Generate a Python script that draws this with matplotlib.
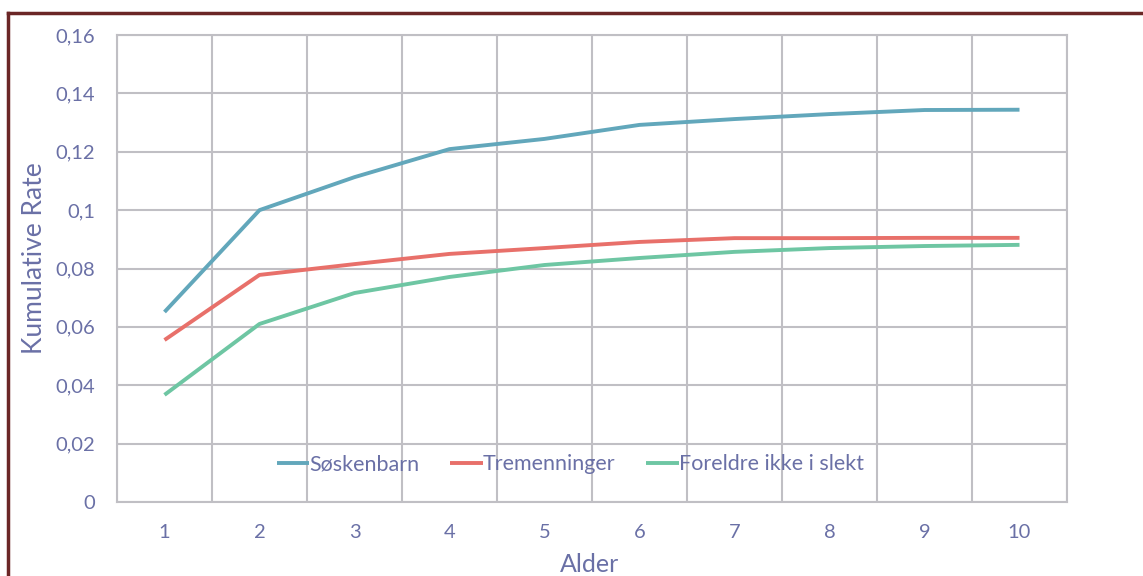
import matplotlib
matplotlib.use("Agg")
import matplotlib.pyplot as plt
from matplotlib.lines import Line2D

ages = [1, 2, 3, 4, 5, 6, 7, 8, 9, 10]
soskenbarn = [0.0651, 0.1000, 0.1113, 0.1209, 0.1244, 0.1292, 0.1312, 0.1329, 0.1343, 0.1344]
tremenninger = [0.0555, 0.0778, 0.0815, 0.0850, 0.0870, 0.0891, 0.0904, 0.0904, 0.0905, 0.0905]
foreldre = [0.0367, 0.0610, 0.0716, 0.0771, 0.0812, 0.0836, 0.0857, 0.0870, 0.0877, 0.0881]
series_names = ["Søskenbarn", "Tremenninger", "Foreldre ikke i slekt"]
yticks = [0, 0.02, 0.04, 0.06, 0.08, 0.1, 0.12, 0.14, 0.16]
ytick_labels = ["0", "0,02", "0,04", "0,06", "0,08", "0,1", "0,12", "0,14", "0,16"]

colors = ["#62a7bb", "#e8706a", "#6ec6a3"]
text_color = "#6a70a6"
grid_color = "#c0bfc4"

plt.rcParams['font.family'] = ['Lato', 'DejaVu Sans']

W, H = 1143, 576
fig = plt.figure(figsize=(W / 100, H / 100), dpi=100)
ax = fig.add_axes([117 / W, 1 - 502 / H, (1067 - 117) / W, (502 - 35) / H])

for vals, c, name in zip([soskenbarn, tremenninger, foreldre], colors, series_names):
    ax.plot(ages, vals, color=c, lw=2.8, label=name, solid_capstyle='butt')

ax.set_xlim(0.5, 10.5)
ax.set_ylim(0, 0.16)
ax.set_yticks(yticks)
ax.set_yticklabels(ytick_labels)
ax.set_xticks(ages)
ax.set_xticklabels([str(a) for a in ages])
ax.set_xticks([a + 0.5 for a in [0] + ages], minor=True)
ax.grid(True, which='minor', axis='x', color=grid_color, lw=1.5)
ax.grid(True, which='major', axis='y', color=grid_color, lw=1.5)
ax.set_axisbelow(True)
ax.tick_params(axis='both', which='both', length=0, colors=text_color, labelsize=14.5)
ax.tick_params(axis='x', pad=16)
ax.tick_params(axis='y', pad=16)
for s in ax.spines.values():
    s.set_color(grid_color)
    s.set_linewidth(1.5)

ax.set_xlabel("Alder", color=text_color, fontsize=18)
ax.set_ylabel("Kumulative Rate", color=text_color, fontsize=19)
ax.xaxis.set_label_coords((590 - 117) / 950, (502 - 553) / 467)
ax.yaxis.set_label_coords((47 - 117) / 950, (502 - 258) / 467)

leg = ax.legend(ncol=3, loc='center', bbox_to_anchor=(0.477, 0.081), frameon=False,
                handlelength=1.5, handletextpad=0.0, columnspacing=1.45,
                fontsize=15.5, labelcolor=text_color)

# outer dark red border (left and top visible)
fig.add_artist(Line2D([8 / W, 8 / W], [0, 1 - 13 / H], transform=fig.transFigure,
                      color="#6b2626", lw=2.5))
fig.add_artist(Line2D([8 / W, 1], [1 - 13 / H, 1 - 13 / H], transform=fig.transFigure,
                      color="#6b2626", lw=2.5))

fig.savefig("out.png", dpi=100)
